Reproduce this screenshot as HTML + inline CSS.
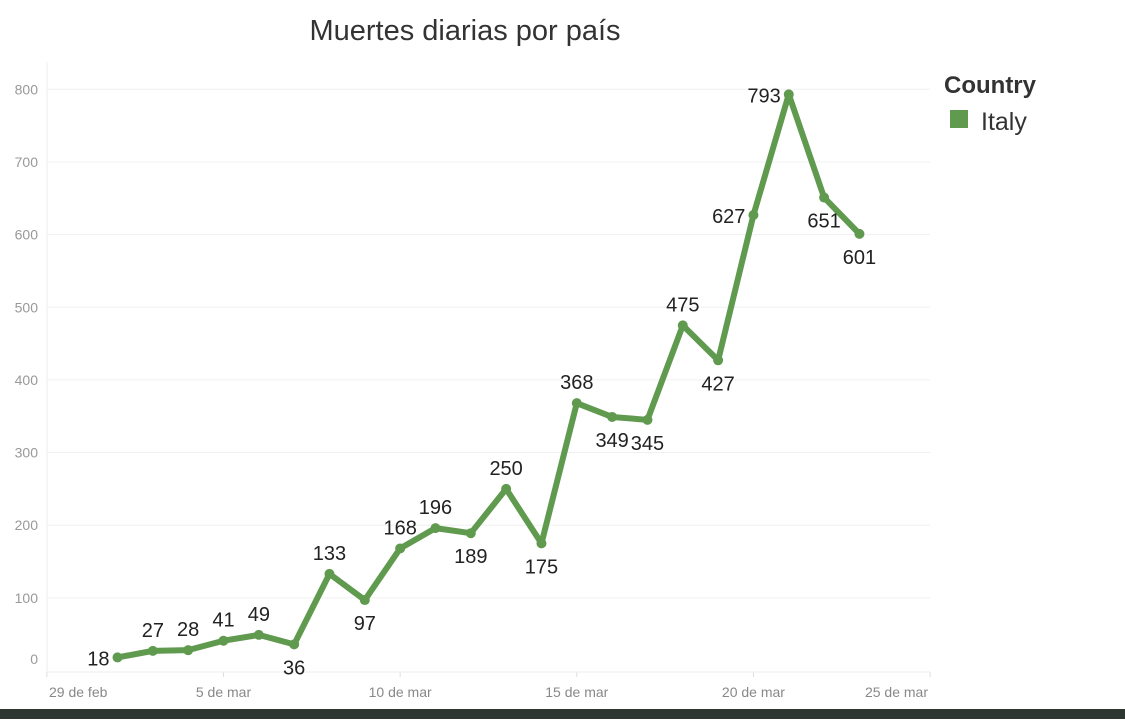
<!DOCTYPE html>
<html><head><meta charset="utf-8"><style>
body{margin:0;width:1125px;height:719px;overflow:hidden;background:#fff;font-family:"Liberation Sans",sans-serif}
</style></head><body>
<svg width="1125" height="719">
<text x="465" y="40" text-anchor="middle" font-size="29" fill="#333">Muertes diarias por país</text>
<g id="grid"></g>
<line x1="47" y1="62" x2="47" y2="672" stroke="#eee"/>
<line x1="47" y1="672" x2="930" y2="672" stroke="#eee"/>
<g id="marks"></g>
<text x="944" y="93" font-size="24" font-weight="bold" fill="#333">Country</text>
<rect x="950" y="110" width="18" height="18" fill="#5f9a4f"/>
<text x="981" y="130" font-size="25" fill="#333">Italy</text>
<rect x="0" y="709" width="1125" height="10" fill="#2e3630"/>
</svg>
<script>
const days=[2,3,4,5,6,7,8,9,10,11,12,13,14,15,16,17,18,19,20,21,22,23];
const deaths=[18,27,28,41,49,36,133,97,168,196,189,250,175,368,349,345,475,427,627,793,651,601];
const labelPos=['L','A','A','A','A','B','A','B','A','A','B','A','B','A','B','B','A','B','L','L','B','B'];
const yTicks=[0,100,200,300,400,500,600,700,800];
const xTickDays=[0,5,10,15,20,25];
const xTickLabels=['29 de feb','5 de mar','10 de mar','15 de mar','20 de mar','25 de mar'];
const NS='http://www.w3.org/2000/svg';
const x=d=>223.5+(d-5)*35.33;
const y=v=>670.5-v*0.7265;
const grid=document.getElementById('grid'),marks=document.getElementById('marks');
function mk(tag,at,parent){const e=document.createElementNS(NS,tag);for(const k in at)e.setAttribute(k,at[k]);parent.appendChild(e);return e;}
yTicks.forEach(t=>{
 if(t>0){const l=mk('line',{x1:47,x2:930,y1:y(t),y2:y(t),stroke:'#f0f0f0'},grid);
 
 }
 const ty=t===0?664:y(t)+5;
 const tx=mk('text',{x:38,y:ty,'text-anchor':'end','font-size':14,fill:'#999'},grid);
 tx.textContent=t;
 
 
});
xTickDays.forEach((d,i)=>{
 let px=x(d),anchor='middle';
 if(i===0){px=49;anchor='start';}
 if(i===xTickDays.length-1){px=928;anchor='end';}
 const tk=mk('line',{x1:x(d),x2:x(d),y1:672,y2:677,stroke:'#ddd'},grid);
 
 
 const tx=mk('text',{x:px,y:697,'text-anchor':anchor,'font-size':14,fill:'#888'},grid);
 tx.textContent=xTickLabels[i];
 
 
});
const pts=days.map((d,i)=>x(d)+','+y(deaths[i])).join(' ');
const line=mk('polyline',{points:pts,fill:'none',stroke:'#5f9a4f','stroke-width':6,'stroke-linejoin':'round','stroke-linecap':'round'},marks);


days.forEach((d,i)=>{
 const c=mk('circle',{cx:x(d),cy:y(deaths[i]),r:5,fill:'#5f9a4f'},marks);
 
 
 let lx=x(d),ly=y(deaths[i]),an='middle';
 if(labelPos[i]==='A')ly-=14;
 else if(labelPos[i]==='B')ly+=30;
 else{lx-=8;ly+=8;an='end';}
 const t=mk('text',{x:lx,y:ly,'text-anchor':an,'font-size':20,fill:'#222'},marks);
 t.textContent=deaths[i];
 
 
});
</script>
</body></html>
